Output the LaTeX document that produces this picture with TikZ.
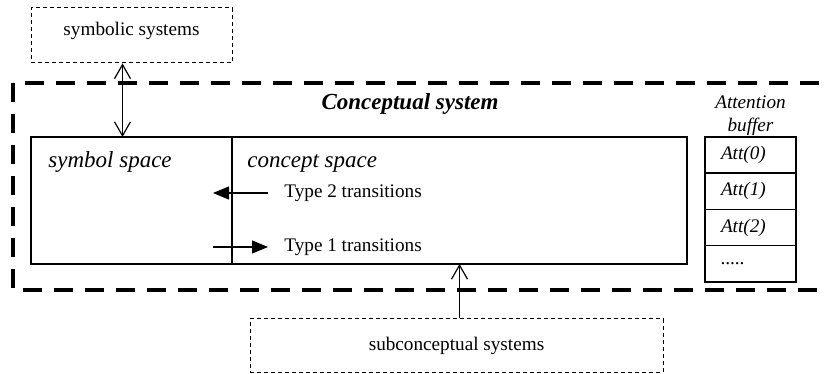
\documentclass[tikz,border=0pt]{standalone}
\usepackage{fontspec}
\setmainfont{Liberation Serif}
\usepackage{tikz}
\usetikzlibrary{arrows.meta, positioning, calc}
\newcommand{\boxtext}{\fontsize{9.6}{11.5}\selectfont}
\newcommand{\spacetext}{\fontsize{11.5}{13.5}\selectfont}

\begin{document}
\begin{tikzpicture}[x=0.5pt, y=-0.5pt,
    thinbox/.style={draw, line width=0.5pt, dash pattern=on 2pt off 1.5pt, inner sep=0pt, font=\boxtext},
    spacebox/.style={draw, line width=0.75pt, inner sep=0pt, outer sep=0pt},
    spacelabel/.style={anchor=base west, inner sep=0pt, xshift=8.5pt, yshift=-15.5pt, font=\spacetext\itshape},
    attcell/.style={draw, line width=0.75pt, minimum width=45.5pt, minimum height=18.125pt, outer sep=0pt,
      inner xsep=8pt, inner ysep=0pt, text width=29.5pt, align=left, font=\boxtext\itshape},
    biarrow/.style={{Straight Barb[length=7pt, width=8pt]}-{Straight Barb[length=7pt, width=8pt]}, line width=0.6pt},
    uparrow/.style={-{Straight Barb[length=7pt, width=8pt]}, line width=0.6pt},
    triarrow/.style={-{Triangle[length=8pt, width=6.5pt]}, line width=0.6pt}]
  \useasboundingbox (0,0) rectangle (826,374);

  % Outer frame of the conceptual system (runs off on the right)
  \draw[line width=2pt, dash pattern=on 9.5pt off 6pt] (13,83) rectangle (860,290);
  \node[font=\spacetext\bfseries\itshape] (ctitle) at (410,104) {Conceptual system};

  % Outside systems
  \node[thinbox, minimum width=100.5pt, minimum height=27.5pt,
    label={[anchor=north, yshift=-4pt, font=\boxtext]north:symbolic systems}] (symsys) at (131.5,35.5) {};
  \node[thinbox, minimum width=206.5pt, minimum height=26.5pt] (subsys) at (456.5,345.5) {subconceptual systems};

  % Symbol and concept spaces
  \node[spacebox, minimum width=100.5pt, minimum height=63.5pt,
    label={[spacelabel]north west:symbol space}] (symspace) at (131.5,200.5) {};
  \node[spacebox, minimum width=227.5pt, minimum height=63.5pt,
    label={[spacelabel, xshift=-1pt]north west:concept space}] (conspace) at (459.5,200.5) {};

  % Transitions
  \node[anchor=west, inner xsep=8pt, font=\boxtext] (type2) at (268,193) {Type 2 transitions};
  \node[anchor=west, inner xsep=8pt, font=\boxtext] (type1) at (268,247) {Type 1 transitions};
  \draw[triarrow] (type2.west) -- ($(symspace.east |- type2.west)+(-19,0)$);
  \draw[triarrow] ($(symspace.east |- type1.west)+(-19,0)$) -- (type1.west);

  % Links to the outside systems
  \draw[biarrow] ($(symsys.south)+(-9,0)$) -- ($(symspace.north)+(-9,0)$);
  \draw[uparrow] (subsys.north -| conspace.south) -- (conspace.south);

  % Attention buffer
  \foreach \i/\t in {0/Att(0), 1/Att(1), 2/Att(2), 3/{\relax.....}}
    \node[attcell] (att\i) at (750.5,{155.1+36.25*\i}) {\t};
  \node[above=0pt of att0, align=center, inner sep=0.5pt, font=\boxtext\itshape] (atthead) {Attention\\buffer};
\end{tikzpicture}
\end{document}
